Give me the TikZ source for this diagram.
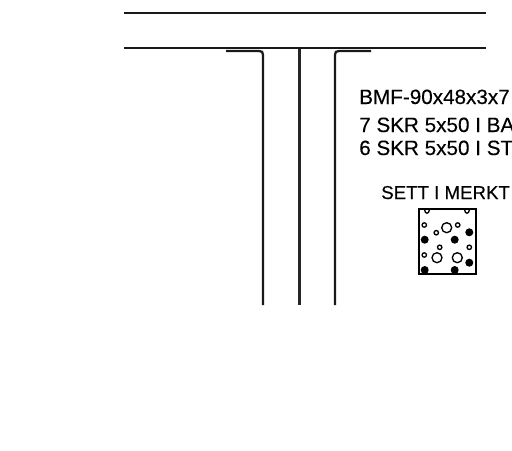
\documentclass[tikz,border=0pt]{standalone}
\usepackage{fontspec}
\setmainfont{Liberation Sans}[FakeBold=0.3]

\begin{document}
\begin{tikzpicture}[x=0.75pt,y=0.75pt,yscale=-1,xscale=1]
\tikzset{
  heavyline/.style={line width=1.7pt,color=black!90},
  thinline/.style={line width=1.2pt,color=black!90},
  midline/.style={line width=1.7pt,color=black!85},
  boltlabel/.style={anchor=base west,inner sep=0pt,font=\fontsize{15.5}{18}\selectfont},
  marklabel/.style={anchor=base west,inner sep=0pt,font=\fontsize{14}{17}\selectfont},
  openhole/.style={line width=1pt},
  fillhole/.style={fill=black}
}
\useasboundingbox (0,0) rectangle (512,451);

%Straight Lines
\draw [thinline]   (124,13) -- (486,13) ;
%Straight Lines
\draw [thinline]   (124,48) -- (486,48) ;
%Left bracket
\draw [heavyline]   (226,51) -- (259,51) .. controls (262,51) and (263,52) .. (263,55) -- (263,305) ;
%Right bracket
\draw [heavyline]   (371,51) -- (339,51) .. controls (336,51) and (335,52) .. (335,55) -- (335,305) ;
%Straight Lines
\draw [midline]   (299.6,49) -- (299.6,305) ;

%Labels
\node [boltlabel] (beam) at (359,104) {BMF-90x48x3x7};
\node [boltlabel] (boltsa) at (359,132) {7 SKR 5x50 I BA};
\node [boltlabel] (boltsb) at (359,155) {6 SKR 5x50 I ST};
\node [marklabel] (mark) at (381,199) {SETT I MERKT};

%Plate
\draw [line width=1.5pt]   (418.5,209) rectangle (475.7,274) ;
%Top notches
\draw [openhole] (424.5,209.5) .. controls (425,214.5) and (429,214.5) .. (429.5,209.5) ;
\draw [openhole] (464.5,209.5) .. controls (465,214.5) and (469,214.5) .. (469.5,209.5) ;
%Small holes
\foreach \hx/\hy in {424.3/225,436.3/232.7,457.7/225,439.7/247.3,469.3/247.3,424.3/255}
  \draw [openhole] (\hx,\hy) circle [radius=2.2] ;
%Large holes
\foreach \hx/\hy in {446.7/227.7,437/257.7,457.3/257.7}
  \draw [openhole] (\hx,\hy) circle [radius=5] ;
%Filled holes
\foreach \hx/\hy in {424.7/239.7,454.7/239.7,469.3/232.3,469.3/262.7,424.7/270,454.7/270}
  \fill [fillhole] (\hx,\hy) circle [radius=4] ;
\end{tikzpicture}
\end{document}
